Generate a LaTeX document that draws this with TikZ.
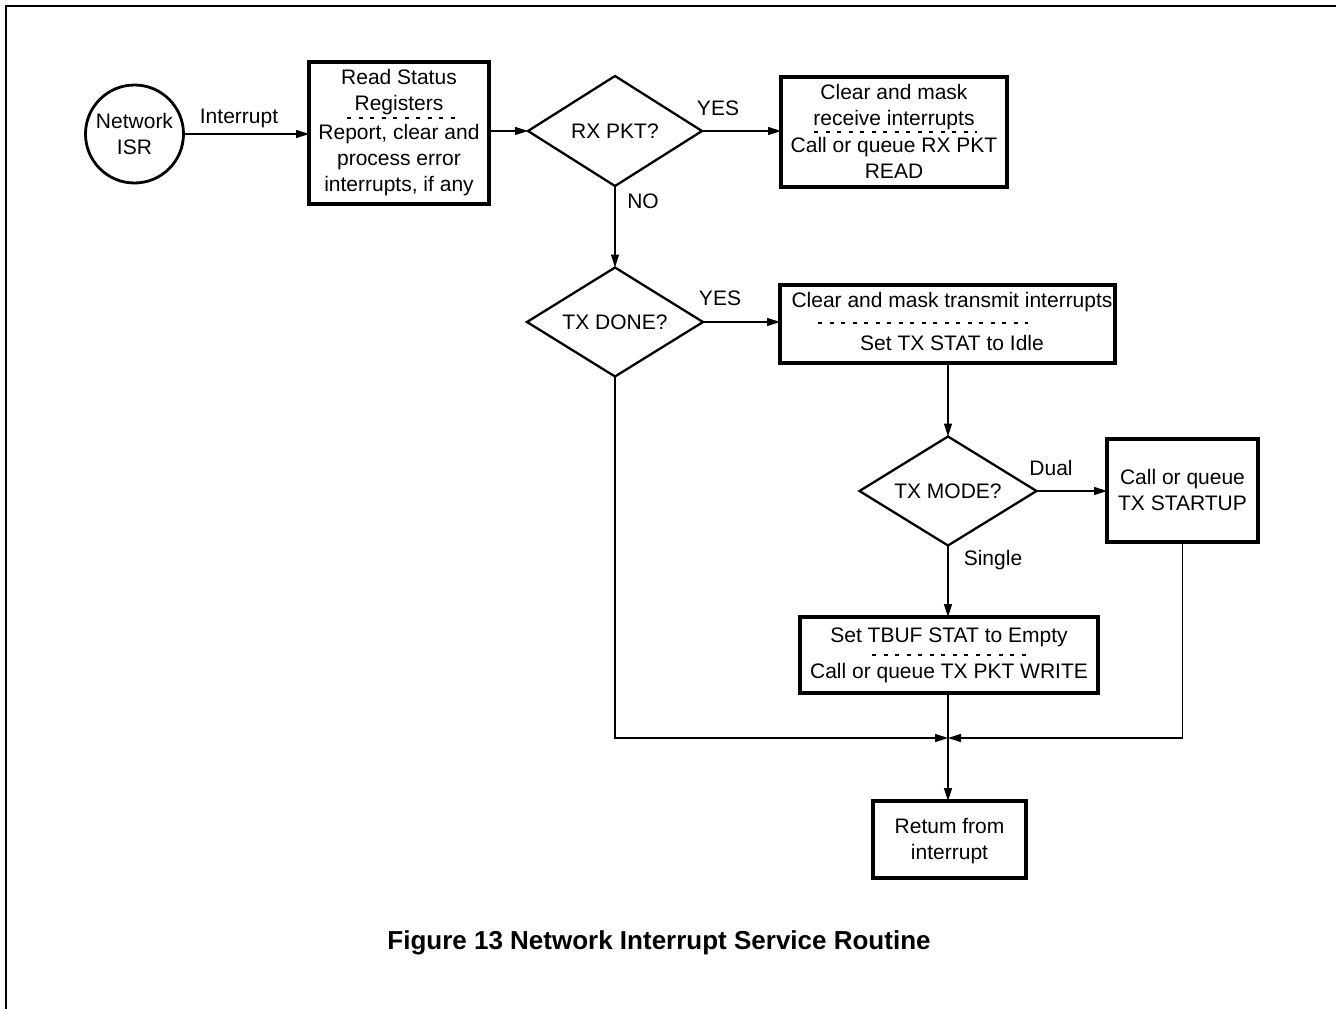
\documentclass[tikz,border=0pt]{standalone}
\usepackage{fontspec}
\setmainfont{Liberation Sans}
\usetikzlibrary{shapes.geometric,arrows.meta}
\begin{document}
\begin{tikzpicture}[x=1pt,y=-1pt,
  every node/.style={font=\fontsize{21}{26}\selectfont, inner sep=0pt, outer sep=0pt},
  box/.style={draw, line width=3.4pt, rectangle, anchor=north west},
  dec/.style={draw, line width=2.3pt, diamond},
  txt/.style={align=center},
  conn/.style={line width=1.4pt},
  arr/.style={conn, -{Triangle[length=13pt,width=8pt]}},
  sep/.style={line width=2.8pt, dash pattern=on 4pt off 7.5pt},
  frame/.style={line width=2pt}]
\useasboundingbox (0,0) rectangle (1336,1009);
\draw[frame] (6,1009) -- (6,6) -- (1336,6);

% start
\node[draw, circle, line width=2.8pt, minimum size=98pt, align=center] (isr) at (134.5,134) {Network\\ISR};

% box 1
\node[box, minimum width=180pt, minimum height=142pt] (b1) at (309,62) {};
\node[txt] (b1a) at (399,92.5) {Read Status\\Registers};
\node[txt] (b1b) at (399,160.5) {Report, clear and\\process error\\interrupts, if any};
\coordinate (b1s1) at (347,118); \coordinate (b1s2) at (459,118);
\draw[sep] (b1s1) -- (b1s2);

% RX PKT decision
\node[dec, minimum width=174pt, minimum height=110pt] (rx) at (615,131) {};
\node (rxt) at (615,131) {RX PKT?};

% box 2
\node[box, minimum width=226pt, minimum height=110pt] (b2) at (781,77) {};
\node[txt] (b2a) at (894,107) {Clear and mask\\receive interrupts};
\node[txt] (b2b) at (894,158) {Call or queue RX PKT\\READ};
\coordinate (b2s1) at (814,132); \coordinate (b2s2) at (977,132);
\draw[sep] (b2s1) -- (b2s2);

% TX DONE decision
\node[dec, minimum width=176pt, minimum height=109pt] (txd) at (615,322) {};
\node (txdt) at (615,322) {TX DONE?};

% box 3
\node[box, minimum width=335pt, minimum height=78pt] (b3) at (780,285) {};
\node[txt] (b3a) at (952,302) {Clear and mask transmit interrupts};
\node[txt] (b3b) at (952,343) {Set TX STAT to Idle};
\coordinate (b3s1) at (818,323); \coordinate (b3s2) at (1028,323);
\draw[sep] (b3s1) -- (b3s2);

% TX MODE decision
\node[dec, minimum width=177pt, minimum height=109pt] (txm) at (948,491) {};
\node (txmt) at (948,491) {TX MODE?};

% box 4
\node[box, minimum width=151pt, minimum height=103pt] (b4) at (1107,439) {};
\node[txt] (b4t) at (1182.5,490) {Call or queue\\TX STARTUP};

% box 5
\node[box, minimum width=298pt, minimum height=76pt] (b5) at (800,617) {};
\node[txt] (b5a) at (949,637) {Set TBUF STAT to Empty};
\node[txt] (b5b) at (949,673) {Call or queue TX PKT WRITE};
\coordinate (b5s1) at (872,655); \coordinate (b5s2) at (1029,655);
\draw[sep] (b5s1) -- (b5s2);

% return
\node[box, minimum width=153pt, minimum height=77pt] (ret) at (873,801) {};
\node[txt] (rett) at (949.5,841) {Retum from\\interrupt};

% merge point
\coordinate (m) at (948,738);

% connectors
\draw[arr] (isr.east) -- (isr.east -| b1.west);
\node (lint) at (239,118) {Interrupt};
\draw[arr] (rx.west -| b1.east) -- (rx.west);
\draw[arr] (rx.east) -- (rx.east -| b2.west);
\node (lyes1) at (718,108) {YES};
\draw[arr] (rx.south) -- (txd.north);
\node (lno) at (643,201) {NO};
\draw[arr] (txd.east) -- (txd.east -| b3.west);
\node (lyes2) at (720,298) {YES};
\draw[arr] (b3.south -| txm.north) -- (txm.north);
\draw[arr] (txm.east) -- (txm.east -| b4.west);
\node (ldual) at (1051,468) {Dual};
\draw[arr] (txm.south) -- (txm.south |- b5.north);
\node (lsingle) at (993,560) {Single};
\draw[conn] (txm.south |- b5.south) -- (m);
\draw[arr] (txd.south) -- (txd.south |- m) -- (m);
\draw[arr] (b4.south) -- (b4.south |- m) -- (m);
\draw[arr] (m) -- (m |- ret.north);

% caption
\node[font=\fontsize{26}{30}\selectfont\bfseries] (cap) at (659,943) {Figure 13 Network Interrupt Service Routine};
\end{tikzpicture}
\end{document}
